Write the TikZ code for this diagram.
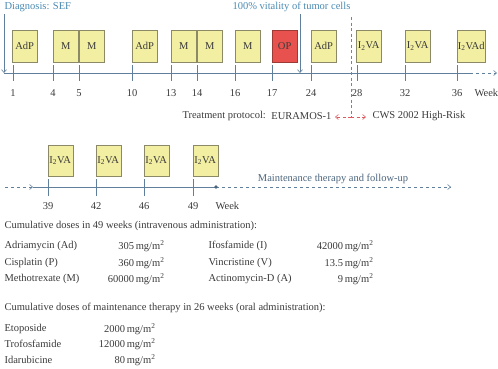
\documentclass[tikz,border=0pt]{standalone}
\usepackage{fontspec}
\setmainfont{Liberation Serif}
\usetikzlibrary{arrows.meta}
\definecolor{axisc}{HTML}{5F7F9C}
\definecolor{bluet}{HTML}{4A8AB2}
\definecolor{boxfill}{HTML}{F3EFA2}
\definecolor{boxdraw}{HTML}{8C8A66}
\definecolor{opfill}{HTML}{E8524E}
\definecolor{opdraw}{HTML}{9C3A36}
\definecolor{redd}{HTML}{DC5A60}
\definecolor{textc}{HTML}{3A3A3A}
\tikzset{
  fnt/.style={font=\fontsize{10.5}{12}\selectfont, text=textc},
  drug/.style={fnt, draw=boxdraw, fill=boxfill, minimum width=25pt, minimum height=32pt, inner sep=0pt, anchor=north west},
  opbox/.style={drug, fill=opfill, draw=opdraw},
  axisline/.style={draw=axisc, line width=0.6pt},
  tarrow/.style={-{Straight Barb[length=3pt,width=5pt]}},
  tickl/.style={fnt, anchor=center},
  bluetext/.style={font=\fontsize{10.5}{12}\selectfont, text=bluet},
  tabl/.style={fnt, anchor=west},
  tabr/.style={fnt, anchor=east},
}
\newcommand{\mgm}{\,mg/m\textsuperscript{2}}
\newcommand{\IIVA}{I\textsubscript{2}VA}
\begin{document}
\begin{tikzpicture}[x=1pt,y=-1pt]
\useasboundingbox (0,0) rectangle (498,368);
% ---------- timeline 1 ----------
\coordinate (a0) at (4,73);
\coordinate (a1) at (470,73);
\coordinate (a2) at (497,73);
\draw[axisline] (a0) -- (a1);
\draw[axisline, dashed, tarrow] (a1) -- (a2);
\foreach \x/\w [count=\i] in {13/1,53/4,79/5,132/10,171/13,197/14,235/16,272/17,311/24,357/28,405/32,457/36}{
  \draw[axisline] (\x,65) -- (\x,81);
  \node[tickl] (t\i) at (\x,93) {\w};
}
\node[fnt, anchor=west] (week1) at (471,93) {Week};
\node[drug] (b1) at (12,30) {AdP};
\node[drug] (b2) at (53,30) {M};
\node[drug] (b3) at (79,30) {M};
\node[drug] (b4) at (132,30) {AdP};
\node[drug] (b5) at (171,30) {M};
\node[drug] (b6) at (197,30) {M};
\node[drug] (b7) at (235,30) {M};
\node[opbox] (b8) at (272,30) {OP};
\node[drug] (b9) at (311,30) {AdP};
\node[drug] (b10) at (356,30) {\IIVA};
\node[drug] (b11) at (405,30) {\IIVA};
\node[drug, minimum width=28pt] (b12) at (457,30) {\IIVA d};
% events
\node[bluetext, anchor=west] (diag) at (1,7) {Diagnosis: SEF};
\coordinate (dtop) at (4,14);
\draw[axisline, tarrow] (dtop) -- (a0);
\node[bluetext, anchor=west] (vit) at (229,7) {100\% vitality of tumor cells};
\coordinate (vtop) at (300,14);
\coordinate (vbot) at (300,73);
\draw[axisline, tarrow] (vtop) -- (vbot);
% protocol switch
\coordinate (rtop) at (351,17);
\coordinate (rbot) at (351,117);
\coordinate (rl) at (335,117);
\coordinate (rr) at (366,117);
\draw[redd, dash pattern=on 3pt off 2.5pt, line width=0.6pt] (rtop) -- (rbot);
\draw[redd, dash pattern=on 3pt off 2.5pt, line width=0.6pt, tarrow] (rbot) -- (rl);
\draw[redd, dash pattern=on 3pt off 2.5pt, line width=0.6pt, tarrow] (rbot) -- (rr);
\node[fnt, anchor=west] (tp) at (179,116) {Treatment protocol:};
\node[fnt, anchor=east] (eur) at (335,116) {EURAMOS-1};
\node[fnt, anchor=west] (cws) at (369,116) {CWS 2002 High-Risk};
% ---------- timeline 2 ----------
\coordinate (c0) at (5,187);
\coordinate (c1) at (33,187);
\coordinate (c2) at (216,187);
\coordinate (c3) at (451,187);
\draw[axisline, dashed, tarrow] (c0) -- (c1);
\draw[axisline] (c1) -- (c2);
\draw[axisline, dashed, tarrow] (c2) -- (c3);
\fill[axisc!80!black] (c2) circle (1.8pt);
\foreach \x/\w [count=\i] in {48/39,96/42,144/46,193/49}{
  \draw[axisline] (\x,179) -- (\x,196);
  \node[tickl] (u\i) at (\x,206) {\w};
  \node[drug, minimum height=31pt] (d\i) at (\x-0.5,145) {\IIVA};
}
\node[fnt, anchor=west] (week2) at (212,206) {Week};
\node[font=\fontsize{10.5}{12}\selectfont, text=axisc!80!black] (maint) at (333,179) {Maintenance therapy and follow-up};
% ---------- doses ----------
\node[tabl] (h1) at (1,226) {Cumulative doses in 49 weeks (intravenous administration):};
\node[tabl] (r11) at (1,246) {Adriamycin (Ad)};
\node[tabr] (v11) at (168,246) {305\mgm};
\node[tabl] (r12) at (1,263) {Cisplatin (P)};
\node[tabr] (v12) at (168,263) {360\mgm};
\node[tabl] (r13) at (1,279) {Methotrexate (M)};
\node[tabr] (v13) at (168,279) {60000\mgm};
\node[tabl] (r21) at (205,246) {Ifosfamide (I)};
\node[tabr] (v21) at (377,246) {42000\mgm};
\node[tabl] (r22) at (205,263) {Vincristine (V)};
\node[tabr] (v22) at (377,263) {13.5\mgm};
\node[tabl] (r23) at (205,279) {Actinomycin-D (A)};
\node[tabr] (v23) at (377,279) {9\mgm};
\node[tabl] (h2) at (1,308) {Cumulative doses of maintenance therapy in 26 weeks (oral administration):};
\node[tabl] (m1) at (1,329) {Etoposide};
\node[tabr] (mv1) at (159,329) {2000\mgm};
\node[tabl] (m2) at (1,344) {Trofosfamide};
\node[tabr] (mv2) at (159,344) {12000\mgm};
\node[tabl] (m3) at (1,360) {Idarubicine};
\node[tabr] (mv3) at (159,360) {80\mgm};
\end{tikzpicture}
\end{document}
